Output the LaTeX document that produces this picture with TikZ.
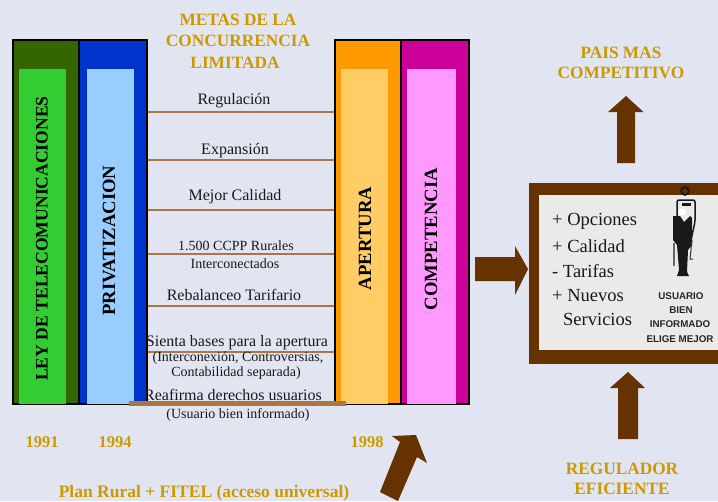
\documentclass[tikz,border=0pt]{standalone}
\usepackage{fontspec}
\setmainfont{Liberation Serif}
\setsansfont{Liberation Sans}
\definecolor{fondo}{HTML}{E1E5F1}
\definecolor{oro}{HTML}{CC9900}
\definecolor{cafe}{HTML}{663300}
\definecolor{linea}{HTML}{AA7744}
\definecolor{verdeO}{HTML}{336600}
\definecolor{verdeC}{HTML}{33CC33}
\definecolor{azulO}{HTML}{0033CC}
\definecolor{azulC}{HTML}{99CCFF}
\definecolor{naranjaO}{HTML}{FF9900}
\definecolor{naranjaC}{HTML}{FFCC66}
\definecolor{rosaO}{HTML}{CC0099}
\definecolor{rosaC}{HTML}{FF99FF}
\definecolor{interior}{HTML}{EAEAEA}
\newcommand{\fs}[1]{\fontsize{#1}{#1}\selectfont}
\tikzset{
  book/.style={draw=black,line width=1.6pt,minimum height=364pt,inner sep=0pt},
  panel/.style={minimum height=335pt,inner sep=0pt},
  lomo/.style={rotate=90,font=\bfseries\fs{18.7},inner sep=0pt},
  meta/.style={line width=2.8pt,draw=linea},
  oroT/.style={text=oro,font=\bfseries\fs{17.3},inner sep=0pt,yshift=-1pt},
  anio/.style={text=oro,font=\bfseries\fs{16.5},inner sep=0pt},
  txt/.style={font=\fs{16},text=black!90,inner sep=0pt,yshift=-1.5pt},
  txtS/.style={font=\fs{14},text=black!90,inner sep=0pt,yshift=-0.5pt},
  opc/.style={font=\fs{18.5},text=black!90,inner sep=0pt,anchor=west},
  usr/.style={font=\sffamily\bfseries\fs{9.8},text=black!85,inner sep=0pt},
  flecha/.style={fill=cafe}
}
\begin{document}
\begin{tikzpicture}[x=1pt,y=-1pt]
\useasboundingbox (0,0) rectangle (718,501);
\fill[fondo] (0,0) rectangle (718,501);
\foreach \yy in {4,10,...,500} \draw[white,opacity=0.07,line width=2pt] (0,\yy) -- (500,\yy);

% libros
\node[book,fill=verdeO,minimum width=66pt] (ley) at (46,222) {};
\node[book,fill=azulO,minimum width=68pt] (privat) at (113,222) {};
\node[book,fill=naranjaO,minimum width=66pt] (apert) at (368,222) {};
\node[book,fill=rosaO,minimum width=68pt] (compet) at (435,222) {};
\node[panel,fill=verdeC,minimum width=47pt] (leyP) at (42.5,236.5) {};
\node[panel,fill=azulC,minimum width=47pt] (privatP) at (110.5,236.5) {};
\node[panel,fill=naranjaC,minimum width=47pt] (apertP) at (364.5,236.5) {};
\node[panel,fill=rosaC,minimum width=49pt] (competP) at (431.5,236.5) {};

\node[lomo,font=\bfseries\fs{17.6}] (leyT) at (42,238.5) {LEY DE TELECOMUNICACIONES};
\node[lomo] (privatT) at (109,240.5) {PRIVATIZACION};
\node[lomo] (apertT) at (365,238.5) {APERTURA};
\node[lomo] (competT) at (431,239) {COMPETENCIA};

% metas
\foreach \yy in {112,160,210,254,306,352}
  \draw[meta] (privat.east |- 0,\yy) -- (apert.west |- 0,\yy);
\coordinate (baseA) at (129,403.5);
\coordinate (baseB) at (346,403.5);
\draw[meta,line width=4.5pt] (baseA) -- (baseB);

\node[oroT] (titA) at (238,19) {METAS DE LA};
\node[oroT] (titB) at (238,40) {CONCURRENCIA};
\node[oroT] (titC) at (235,62) {LIMITADA};
\node[txt] (m1) at (234,99) {Regulación};
\node[txt] (m2) at (235,149) {Expansión};
\node[txt] (m3) at (235,195) {Mejor Calidad};
\node[txtS] (m4) at (236,245) {1.500 CCPP Rurales};
\node[txtS] (m4b) at (235,263) {Interconectados};
\node[txt] (m5) at (234,293) {Rebalanceo Tarifario};
\node[txt] (m6) at (237,341) {Sienta bases para la apertura};
\node[txtS] (m6b) at (238,358) {(Interconexión, Controversias,};
\node[txtS] (m6c) at (236,373) {Contabilidad separada)};
\node[txt] (m7) at (233,393) {Reafirma derechos usuarios};
\node[txtS] (m7b) at (238,415) {(Usuario bien informado)};

\node[anio] (y1) at (42,442) {1991};
\node[anio] (y2) at (115,442) {1994};
\node[anio] (y3) at (367,442) {1998};
\node[oroT,font=\bfseries\fs{17.5}] (plan) at (204,492) {Plan Rural + FITEL (acceso universal)};

% flechas
\fill[flecha] (617,163) -- (617,112) -- (608,112) -- (626,96) -- (643.5,112) -- (635,112) -- (635,163) -- cycle;
\fill[flecha] (475,257) -- (515,257) -- (515,246) -- (528,269) -- (515,295) -- (515,281) -- (475,281) -- cycle;
\fill[flecha] (618,439) -- (618,388) -- (610,388) -- (628,372) -- (645,388) -- (638,388) -- (638,439) -- cycle;
\fill[flecha] (380,492) -- (400,442) -- (392,436) -- (416,435) -- (427,463) -- (417,457) -- (398,501) -- cycle;

% cuadro usuario
\fill[cafe] (529,183) rectangle (718,364);
\fill[interior] (539,195) rectangle (718,350);
\node[oroT] (pais) at (621,52) {PAIS MAS};
\node[oroT] (pais2) at (621,72) {COMPETITIVO};
\node[oroT] (reg) at (622,468) {REGULADOR};
\node[oroT] (reg2) at (622,488) {EFICIENTE};
\node[opc] (o1) at (552,221.5) {+ Opciones};
\node[opc] (o2) at (552,246.5) {+ Calidad};
\node[opc] (o3) at (552,271) {- Tarifas};
\node[opc] (o4) at (552,295.5) {+ Nuevos};
\node[opc] (o5) at (563,319) {Servicios};
\node[usr] (u1) at (681,296) {USUARIO};
\node[usr] (u2) at (681,310) {BIEN};
\node[usr] (u3) at (680,324) {INFORMADO};
\node[usr] (u4) at (680,339) {ELIGE MEJOR};

% figura
\draw[black!90,line width=2pt] (685,191) circle (3.8);
\draw[black!90,line width=1.5pt,rounded corners=2pt] (677,217) -- (677,200) -- (695,200) -- (695,222) -- (691,240);
\fill[black!90] (673,216) -- (680,216) -- (684,222) -- (690,216) -- (692,218) -- (692,245) -- (688,250) -- (687,272) -- (689,276) -- (677,276) -- (679,270) -- (677,245) -- (673,240) -- cycle;
\fill[white] (682,212) circle (3.6);
\fill[black!90] (682,203) rectangle (691,206);
\draw[black!80,line width=1pt] (692,240) -- (690,259) -- (693,259);
\fill[black!60] (673,243) rectangle (675,266);
\end{tikzpicture}
\end{document}
